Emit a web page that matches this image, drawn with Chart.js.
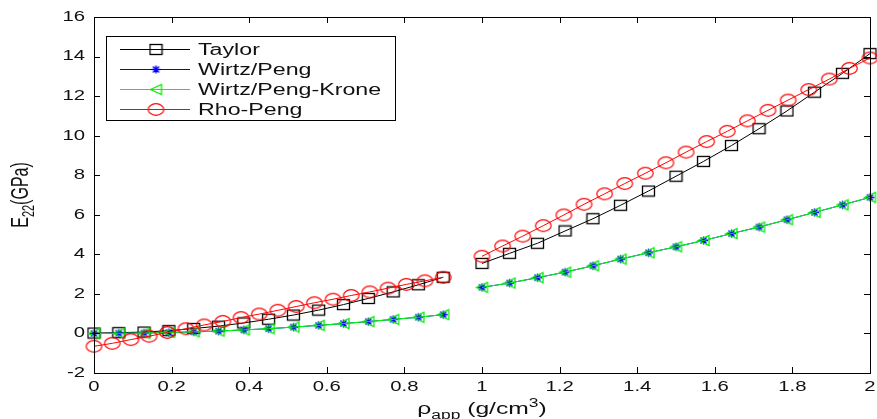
<!DOCTYPE html>
<html>
<head>
<meta charset="utf-8">
<script src="https://cdn.jsdelivr.net/npm/chart.js@4.4.0/dist/chart.umd.min.js"></script>
<style>
  html, body { margin: 0; padding: 0; background: #fff; }
  #wrap { width: 877px; height: 419px; }
</style>
</head>
<body>
<div id="wrap"><canvas id="modulus" width="877" height="419"></canvas></div>
<script>
// apparent density (g/cm3), two sampled ranges per curve
const rhoShortLow = [0, 0.064, 0.129, 0.193, 0.257, 0.321, 0.386, 0.45, 0.514, 0.579, 0.643, 0.707, 0.771, 0.836, 0.9];
const rhoShortHigh = [1, 1.071, 1.143, 1.214, 1.286, 1.357, 1.429, 1.5, 1.571, 1.643, 1.714, 1.786, 1.857, 1.929, 2];
const rhoFineLow = [0, 0.047, 0.095, 0.142, 0.189, 0.237, 0.284, 0.332, 0.379, 0.426, 0.474, 0.521, 0.568, 0.616, 0.663, 0.711, 0.758, 0.805, 0.853, 0.9];
const rhoFineHigh = [1, 1.053, 1.105, 1.158, 1.211, 1.263, 1.316, 1.368, 1.421, 1.474, 1.526, 1.579, 1.632, 1.684, 1.737, 1.789, 1.842, 1.895, 1.947, 2];

// E22 in GPa
const taylorLow = [0.02, 0.04, 0.07, 0.14, 0.25, 0.37, 0.53, 0.72, 0.93, 1.18, 1.46, 1.77, 2.1, 2.46, 2.84];
const taylorHigh = [3.54, 4.05, 4.56, 5.18, 5.8, 6.48, 7.2, 7.95, 8.7, 9.5, 10.35, 11.25, 12.2, 13.15, 14.15];
const wirtzLow = [0, 0.01, 0.02, 0.05, 0.08, 0.12, 0.18, 0.24, 0.32, 0.41, 0.5, 0.6, 0.71, 0.82, 0.95];
const wirtzHigh = [2.33, 2.55, 2.82, 3.1, 3.42, 3.76, 4.08, 4.38, 4.7, 5.05, 5.38, 5.75, 6.12, 6.5, 6.88];
const kroneLow = [0, 0.01, 0.02, 0.05, 0.08, 0.12, 0.18, 0.24, 0.32, 0.41, 0.5, 0.6, 0.71, 0.82, 0.95];
const kroneHigh = [2.33, 2.55, 2.82, 3.1, 3.42, 3.76, 4.08, 4.38, 4.7, 5.05, 5.38, 5.75, 6.12, 6.5, 6.88];
const rhoPengLow = [-0.65, -0.5, -0.31, -0.14, 0.05, 0.24, 0.43, 0.61, 0.8, 0.98, 1.17, 1.36, 1.55, 1.73, 1.92, 2.1, 2.29, 2.48, 2.66, 2.84];
const rhoPengHigh = [3.9, 4.42, 4.92, 5.45, 5.99, 6.53, 7.06, 7.58, 8.1, 8.63, 9.17, 9.7, 10.22, 10.75, 11.28, 11.8, 12.33, 12.86, 13.4, 13.93];

const seriesNames = ['Taylor', 'Wirtz/Peng', 'Wirtz/Peng-Krone', 'Rho-Peng'];
const seriesColors = ['#000000', '#0000ff', '#00ff00', '#ff0000'];

const xTicks = [0, 0.2, 0.4, 0.6, 0.8, 1, 1.2, 1.4, 1.6, 1.8, 2];
const yTicks = [-2, 0, 2, 4, 6, 8, 10, 12, 14, 16];

const FONT = '"Liberation Sans", Arial, sans-serif';
const STRETCH = 1.45; // text is drawn wide, like the old figure export

// join two ranges, a null point breaks the line between them
function joinRanges(xa, ya, xb, yb) {
  const pts = xa.map((x, i) => ({ x: x, y: ya[i] }));
  pts.push({ x: xa[xa.length - 1], y: null });
  xb.forEach((x, i) => pts.push({ x: x, y: yb[i] }));
  return pts;
}

function markerCanvas(w, h, draw) {
  const c = document.createElement('canvas');
  c.width = w;
  c.height = h;
  draw(c.getContext('2d'), w, h);
  return c;
}

const squareMark = markerCanvas(15, 13, (g) => {
  g.strokeStyle = '#000';
  g.lineWidth = 1.3;
  g.strokeRect(1.5, 1.5, 12, 10);
});
const starMark = markerCanvas(13, 11, (g) => {
  g.strokeStyle = '#0000ff';
  g.lineWidth = 1.4;
  g.beginPath();
  g.moveTo(2, 5.5); g.lineTo(11, 5.5);
  g.moveTo(6.5, 1.5); g.lineTo(6.5, 9.5);
  g.moveTo(3.5, 2.5); g.lineTo(9.5, 8.5);
  g.moveTo(9.5, 2.5); g.lineTo(3.5, 8.5);
  g.stroke();
});
const triangleMark = markerCanvas(15, 13, (g) => {
  g.strokeStyle = '#00ee00';
  g.lineWidth = 1.3;
  g.beginPath();
  g.moveTo(2, 6.5);
  g.lineTo(13, 1.5);
  g.lineTo(13, 11.5);
  g.closePath();
  g.stroke();
});
const circleMark = markerCanvas(19, 15, (g) => {
  g.strokeStyle = '#ff0000';
  g.lineWidth = 1.2;
  g.beginPath();
  g.ellipse(9.5, 7.5, 7.8, 5.8, 0, 0, Math.PI * 2);
  g.stroke();
});
const seriesMarks = [squareMark, starMark, triangleMark, circleMark];

function lineSet(i, data, order) {
  return {
    label: seriesNames[i],
    data: data,
    borderColor: seriesColors[i],
    borderWidth: 1,
    pointStyle: seriesMarks[i],
    pointRadius: 6,
    pointHoverRadius: 6,
    spanGaps: false,
    tension: 0,
    clip: false,
    order: order
  };
}

// draws a run of text pieces with sub/superscripts, stretched horizontally
function drawRichText(ctx, pieces, x, y, align) {
  ctx.save();
  let total = 0;
  pieces.forEach(p => {
    ctx.font = p.size + 'px ' + FONT;
    p.w = ctx.measureText(p.text).width;
    total += p.w;
  });
  ctx.translate(x, y);
  ctx.scale(STRETCH, 1);
  let cx = align === 'center' ? -total / 2 : 0;
  ctx.textBaseline = 'alphabetic';
  ctx.textAlign = 'left';
  pieces.forEach(p => {
    ctx.font = p.size + 'px ' + FONT;
    ctx.fillText(p.text, cx, p.dy || 0);
    cx += p.w;
  });
  ctx.restore();
}

const frame = {
  id: 'frame',
  afterDraw(chart) {
    const ctx = chart.ctx;
    const area = chart.chartArea;
    const xs = chart.scales.x;
    const ys = chart.scales.y;
    const tick = 6;

    ctx.save();
    ctx.strokeStyle = '#000';
    ctx.lineWidth = 1;
    ctx.strokeRect(Math.round(area.left) + 0.5, Math.round(area.top) + 0.5,
      Math.round(area.right - area.left), Math.round(area.bottom - area.top));

    ctx.beginPath();
    xTicks.forEach(v => {
      const px = Math.round(xs.getPixelForValue(v)) + 0.5;
      ctx.moveTo(px, area.bottom); ctx.lineTo(px, area.bottom - tick);
      ctx.moveTo(px, area.top); ctx.lineTo(px, area.top + tick);
    });
    yTicks.forEach(v => {
      const py = Math.round(ys.getPixelForValue(v)) + 0.5;
      ctx.moveTo(area.left, py); ctx.lineTo(area.left + tick, py);
      ctx.moveTo(area.right, py); ctx.lineTo(area.right - tick, py);
    });
    ctx.stroke();

    // tick labels
    ctx.fillStyle = '#111';
    ctx.font = '14px ' + FONT;
    ctx.textBaseline = 'middle';
    xTicks.forEach(v => {
      ctx.save();
      ctx.translate(xs.getPixelForValue(v), area.bottom + 14);
      ctx.scale(STRETCH, 1);
      ctx.textAlign = 'center';
      ctx.fillText(String(v), 0, 0);
      ctx.restore();
    });
    yTicks.forEach(v => {
      ctx.save();
      ctx.translate(area.left - 9, ys.getPixelForValue(v));
      ctx.scale(STRETCH, 1);
      ctx.textAlign = 'right';
      ctx.fillText(String(v), 0, 0);
      ctx.restore();
    });

    // axis titles
    const midX = (area.left + area.right) / 2;
    drawRichText(ctx, [
      { text: 'ρ', size: 17 },
      { text: 'app', size: 12, dy: 5 },
      { text: ' (g/cm', size: 17 },
      { text: '3', size: 12, dy: -7 },
      { text: ')', size: 17 }
    ], midX, 414, 'center');

    const midY = (area.top + area.bottom) / 2;
    ctx.save();
    ctx.translate(28, midY);
    ctx.scale(STRETCH, 1);
    ctx.rotate(-Math.PI / 2);
    const yPieces = [
      { text: 'E', size: 16 },
      { text: '22', size: 11, dy: 4 },
      { text: '(GPa)', size: 16 }
    ];
    let total = 0;
    yPieces.forEach(p => { ctx.font = p.size + 'px ' + FONT; p.w = ctx.measureText(p.text).width; total += p.w; });
    let cx = -total / 2;
    ctx.textAlign = 'left';
    ctx.textBaseline = 'alphabetic';
    yPieces.forEach(p => { ctx.font = p.size + 'px ' + FONT; ctx.fillText(p.text, cx, p.dy || 0); cx += p.w; });
    ctx.restore();

    // legend box
    const lx = 106, ly = 36, lw = 289, lh = 84;
    ctx.fillStyle = '#fff';
    ctx.fillRect(lx, ly, lw, lh);
    ctx.strokeStyle = '#000';
    ctx.lineWidth = 1;
    ctx.strokeRect(lx + 0.5, ly + 0.5, lw, lh);
    seriesNames.forEach((name, i) => {
      const ry = Math.round(ly + 13 + i * 20) + 0.5;
      ctx.strokeStyle = seriesColors[i];
      ctx.beginPath();
      ctx.moveTo(120, ry);
      ctx.lineTo(190, ry);
      ctx.stroke();
      const m = seriesMarks[i];
      ctx.drawImage(m, 156 - m.width / 2, ry - m.height / 2);
      ctx.save();
      ctx.fillStyle = '#111';
      ctx.font = '16px ' + FONT;
      ctx.textBaseline = 'middle';
      ctx.translate(198, ry);
      ctx.scale(STRETCH, 1);
      ctx.fillText(name, 0, 1);
      ctx.restore();
    });
    ctx.restore();
  }
};

new Chart(document.getElementById('modulus').getContext('2d'), {
  type: 'line',
  data: {
    datasets: [
      lineSet(0, joinRanges(rhoShortLow, taylorLow, rhoShortHigh, taylorHigh), 4),
      lineSet(1, joinRanges(rhoShortLow, wirtzLow, rhoShortHigh, wirtzHigh), 3),
      lineSet(2, joinRanges(rhoShortLow, kroneLow, rhoShortHigh, kroneHigh), 2),
      lineSet(3, joinRanges(rhoFineLow, rhoPengLow, rhoFineHigh, rhoPengHigh), 1)
    ]
  },
  options: {
    responsive: false,
    animation: false,
    devicePixelRatio: 1,
    layout: { padding: { left: 0, right: 7, top: 17, bottom: 0 } },
    plugins: { legend: { display: false }, tooltip: { enabled: false } },
    scales: {
      x: {
        type: 'linear',
        min: 0,
        max: 2,
        ticks: { display: false, stepSize: 0.2 },
        grid: { display: false, drawTicks: false },
        border: { display: false },
        afterFit: s => { s.height = 46; }
      },
      y: {
        type: 'linear',
        min: -2,
        max: 16,
        ticks: { display: false, stepSize: 2 },
        grid: { display: false, drawTicks: false },
        border: { display: false },
        afterFit: s => { s.width = 94; }
      }
    }
  },
  plugins: [frame]
});
</script>
</body>
</html>
